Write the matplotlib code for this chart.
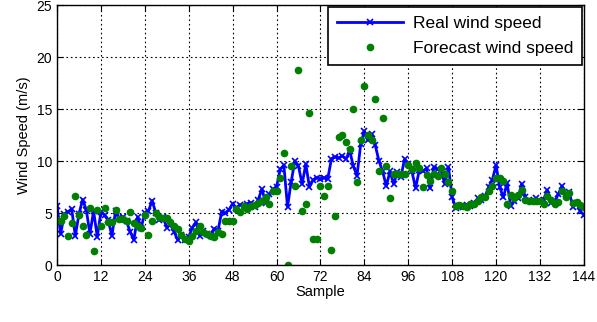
import numpy as np
import matplotlib
matplotlib.use('Agg')
import matplotlib.pyplot as plt

plt.rcParams['font.family'] = ['Liberation Sans', 'DejaVu Sans']

# real wind speed, samples 0..144
real = [5.7, 3.0, 4.9, 5.1, 5.4, 2.8, 4.9, 6.3, 5.3, 3.0,
        5.2, 2.7, 5.1, 4.8, 4.3, 2.8, 5.2, 4.5, 4.6, 4.2,
        3.2, 2.4, 4.6, 3.6, 5.0, 5.2, 6.2, 5.0, 4.3, 4.6,
        3.6, 3.9, 3.2, 2.4, 2.9, 2.4, 2.7, 3.6, 4.1, 2.8,
        3.3, 3.0, 2.8, 3.5, 3.3, 5.1, 5.0,
        5.3, 5.9, 5.5, 5.8, 5.6, 5.9, 6.0, 5.6, 6.3, 7.3,
        6.0, 6.8, 7.3, 7.5, 9.2, 9.6, 5.6, 8.0, 10.0, 9.5,
        7.8, 9.7, 7.5, 8.2, 8.4,
        8.3, 8.4, 8.3, 10.2, 10.4, 10.3, 10.5, 10.2, 11.0, 9.5,
        8.6, 11.6, 12.9, 12.0, 12.6, 11.5, 10.0, 9.0, 7.6,
        9.0, 7.8, 8.9, 8.5, 10.2, 9.7, 9.0, 7.4, 9.1, 9.0,
        9.3, 7.4, 9.4, 9.2, 9.1, 7.8, 9.4, 6.5, 5.5, 5.7,
        5.6, 5.8, 5.7, 6.0, 6.4, 6.3, 6.6, 7.5, 8.2, 9.6,
        7.5, 6.5, 7.9, 5.7, 6.2, 6.4, 7.8, 6.5, 6.3, 6.2,
        6.4, 6.2, 6.3, 7.2, 6.0, 6.1, 6.8, 7.6, 6.8, 7.0,
        5.6, 6.0, 5.2, 4.8]

# forecast wind speed, samples 0..144
forecast = [4.3, 4.2, 4.7, 2.8, 4.0, 6.6, 4.8, 3.8, 2.9, 5.5,
            1.3, 5.3, 3.8, 5.5, 4.1, 4.1, 5.3, 4.4, 4.4, 4.2,
            5.1, 4.0, 3.8, 3.6, 4.8, 2.9, 4.2, 5.0, 4.6, 4.5,
            4.5, 4.1, 3.8, 3.5, 2.9, 2.5, 2.3, 2.8, 3.3, 3.8,
            3.2, 3.0, 2.8, 2.7, 3.2, 3.0, 4.2, 4.2, 4.2, 5.4,
            5.1, 5.7, 5.4, 5.7, 5.8, 6.0, 6.2, 6.5, 5.9, 7.1,
            7.1, 8.4, 10.8, 0.0, 9.5, 7.6, 18.8, 5.2, 5.9, 14.6,
            2.5, 2.5, 7.6, 6.6, 7.6, 1.4, 4.7, 12.3, 12.5, 11.8,
            11.2, 15.0, 8.0, 12.0, 17.2, 12.5, 12.0, 16.0, 9.0, 14.1,
            9.5, 6.4, 8.8, 8.8, 8.8, 8.8, 9.6, 9.2, 9.8, 9.3,
            7.5, 8.7, 8.1, 8.8, 8.6, 9.3, 8.8, 8.0, 7.1, 5.7,
            5.8, 5.7, 5.6, 5.9, 5.9, 6.2, 6.5, 6.5, 7.1, 7.6,
            8.4, 8.4, 8.1, 5.9, 6.7, 6.4, 6.7, 7.2, 6.3, 6.2,
            6.2, 6.2, 6.2, 5.9, 6.6, 6.3, 5.9, 6.1, 7.1, 6.5,
            6.9, 6.0, 6.1, 5.8, 5.6]

samples = np.arange(len(real))
xticks = np.arange(0, 145, 12)
yticks = np.arange(0, 26, 5)

fig = plt.figure(figsize=(5.97, 3.22), dpi=100)
ax = fig.add_axes([0.0955, 0.177, 0.8825, 0.807])

ax.plot(samples, real, color='#0000ff', lw=2, marker='x', ms=4, mew=1.2,
        label='Real wind speed')
ax.plot(np.arange(len(forecast)), forecast, ls='none', marker='o', ms=4.5,
        color='#008000', label='Forecast wind speed')

ax.set_xlim(0, 144)
ax.set_ylim(0, 25)
ax.set_xticks(xticks)
ax.set_yticks(yticks)
ax.tick_params(direction='in', labelsize=10, length=4, top=True, right=True)
ax.grid(True, color='black', ls=(0, (1.5, 2.5)), lw=0.8)
for s in ax.spines.values():
    s.set_linewidth(1)
ax.set_xlabel('Sample', fontsize=10.5, labelpad=1)
ax.set_ylabel('Wind Speed (m/s)', fontsize=10.5, labelpad=4)

leg = ax.legend(loc='upper right', fontsize=12.5, fancybox=False, framealpha=1,
                edgecolor='black', borderaxespad=0.1, handlelength=3.8,
                borderpad=0.5, labelspacing=0.6, handletextpad=0.6)
leg.get_frame().set_linewidth(1.2)

fig.savefig('out.png', dpi=100)
